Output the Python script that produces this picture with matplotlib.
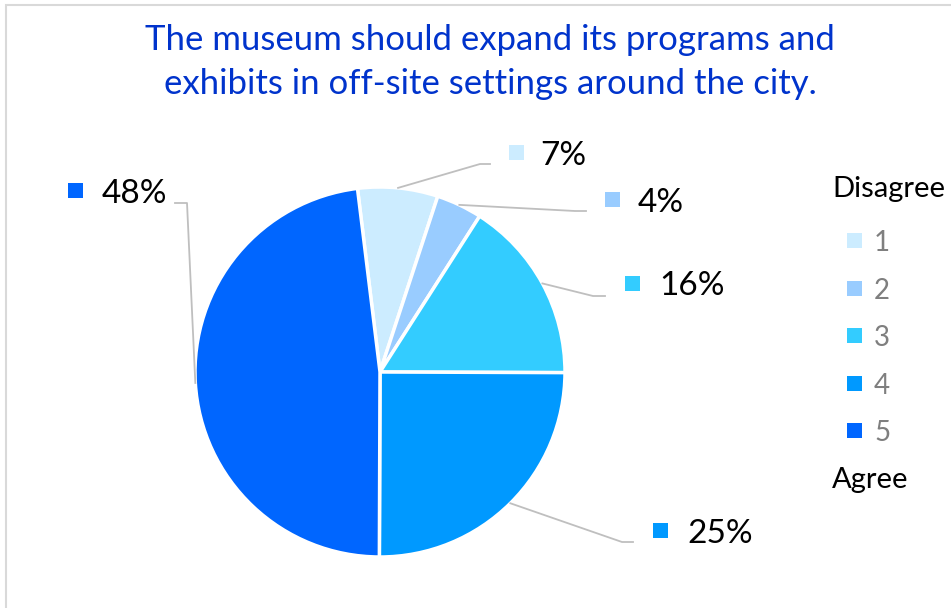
import numpy as np
import matplotlib
matplotlib.use("Agg")
import matplotlib.pyplot as plt
from matplotlib.patches import Rectangle

plt.rcParams['font.family'] = ['Lato', 'DejaVu Sans']

title_lines = ["The museum should expand its programs and",
               "exhibits in off-site settings around the city."]
categories = ['1', '2', '3', '4', '5']
shares = [7, 4, 16, 25, 48]
colors = ['#CCECFF', '#99CCFF', '#33CCFF', '#0099FF', '#0066FF']
legend_top = 'Disagree'
legend_bottom = 'Agree'

W, H = 951, 608
# label layout in pixels from top-left: marker centre, text left + baseline, elbow, line end
label_marker = [(516, 152), (612, 199), (632, 283), (660, 530), (75, 190)]
label_text = [(540, 165), (638, 212), (659, 295), (687, 543), (102, 203)]
leader_elbow = [(480, 164), (575, 211), (593, 296), (622, 542), (187, 203)]
leader_end = [(490, 164), (586, 211), (605, 296), (633, 542), (175, 203)]

fig = plt.figure(figsize=(W / 100, H / 100), dpi=100)
ax = fig.add_axes([0, 0, 1, 1])

def py(y):
    return H - y

cx, cy, R = 380, py(372), 185
wedges, _ = ax.pie(shares, colors=colors, startangle=97, counterclock=False,
                   center=(cx, cy), radius=R,
                   wedgeprops=dict(edgecolor='white', linewidth=2.5))
ax.set_xlim(0, W)
ax.set_ylim(0, H)
ax.set_aspect('equal')
ax.axis('off')

# frame
ax.add_patch(Rectangle((6, -10), W + 10, py(5) + 10, fill=False,
                       edgecolor='#D9D9D9', linewidth=1.5))

# data labels with leader lines (Excel-style, from wedge mid angle)
for i, w in enumerate(wedges):
    ang = np.deg2rad((w.theta1 + w.theta2) / 2)
    sx, sy = cx + R * np.cos(ang), cy + R * np.sin(ang)
    ex, ey = leader_elbow[i]
    tx, ty = leader_end[i]
    ax.plot([sx, ex, tx], [sy, py(ey), py(ty)], color='#BFBFBF', lw=1.3)
    mx, my = label_marker[i]
    ax.add_patch(Rectangle((mx - 7.5, py(my) - 7.5), 15, 15, color=colors[i], lw=0))
    lx, ly = label_text[i]
    ax.text(lx, py(ly), f'{shares[i]}%', fontsize=24, color='black',
            ha='left', va='baseline')

# title
for line, base in zip(title_lines, [50, 94]):
    ax.text(490, py(base), line, fontsize=25, color='#0033CC', ha='center',
            va='baseline')

# legend
ax.text(832, py(197), legend_top, fontsize=21, ha='left', va='baseline', color='black')
ax.text(832, py(488), legend_bottom, fontsize=21, ha='left', va='baseline', color='black')
leg_y = [240, 288, 335, 383, 430]
for i, c in enumerate(categories):
    ax.add_patch(Rectangle((847, py(leg_y[i]) - 7.5), 15, 15, color=colors[i], lw=0))
    ax.text(874, py(leg_y[i] + 11), c, fontsize=20, color='#7F7F7F', ha='left',
            va='baseline')

fig.savefig('out.png', dpi=100)
